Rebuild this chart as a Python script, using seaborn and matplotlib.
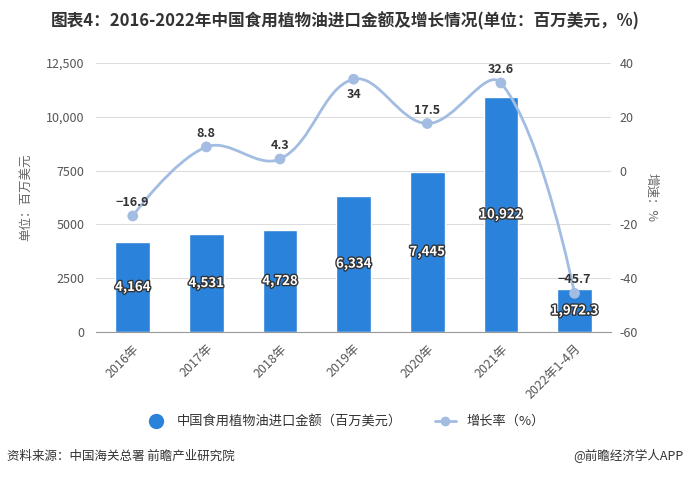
import numpy as np
import pandas as pd
import seaborn as sns
import matplotlib.pyplot as plt
from matplotlib.path import Path
from matplotlib.patches import PathPatch
from matplotlib.lines import Line2D
import matplotlib.patheffects as pe

years = ["2016年", "2017年", "2018年", "2019年", "2020年", "2021年", "2022年1-4月"]
import_value = [4164, 4531, 4728, 6334, 7445, 10922, 1972.3]
value_labels = ["4,164", "4,531", "4,728", "6,334", "7,445", "10,922", "1,972.3"]
growth = [-16.9, 8.8, 4.3, 34, 17.5, 32.6, -45.7]
growth_labels = ["−16.9", "8.8", "4.3", "34", "17.5", "32.6", "−45.7"]
left_ticks = [0, 2500, 5000, 7500, 10000, 12500]
left_tick_labels = ["0", "2500", "5000", "7500", "10,000", "12,500"]
right_ticks = [-60, -40, -20, 0, 20, 40]

df = pd.DataFrame({"year": years, "value": import_value, "growth": growth})

sns.set_style("white")
plt.rcParams['font.family'] = ['Noto Sans CJK SC', 'DejaVu Sans']
plt.rcParams['axes.unicode_minus'] = False

bar_color = "#2a82da"
line_color = "#a3bce2"
tick_color = "#555555"

fig = plt.figure(figsize=(6.9, 4.78), dpi=100)
ax = fig.add_axes([0.139, 0.306, 0.747, 0.562])

sns.barplot(data=df, x="year", y="value", color=bar_color, width=0.47,
            saturation=1, ax=ax)
ax.set_ylim(0, 12500)
ax.set_yticks(left_ticks)
ax.set_yticklabels(left_tick_labels)
ax.yaxis.grid(True, color="#dddddd", linewidth=0.8)
ax.set_axisbelow(True)
for s in ["top", "left", "right"]:
    ax.spines[s].set_visible(False)
ax.spines["bottom"].set_color("#999999")
ax.tick_params(axis="y", length=0, labelsize=9, colors=tick_color, pad=8)
ax.tick_params(axis="x", length=4, color="#999999", labelsize=9,
               colors=tick_color)
plt.setp(ax.get_xticklabels(), rotation=45, ha="right", rotation_mode="anchor")
ax.set_xlabel("")
ax.set_ylabel("单位：百万美元", fontsize=9, color="#666666", labelpad=10)

for i, (v, lab) in enumerate(zip(import_value, value_labels)):
    ax.text(i, v / 2, lab, ha="center", va="center", color="white",
            fontsize=9.5, fontweight="bold",
            path_effects=[pe.withStroke(linewidth=2, foreground="#333333")])

ax2 = ax.twinx()
ax2.set_ylim(-60, 40)
ax2.set_yticks(right_ticks)
for s in ["top", "left", "right", "bottom"]:
    ax2.spines[s].set_visible(False)
ax2.tick_params(axis="y", length=0, labelsize=9, colors=tick_color, pad=6)
ax2.set_ylabel("增速：%", fontsize=9, color="#666666", rotation=-90,
               labelpad=14)

# smooth curve through the growth points (bezier control points in pixel space)
xs = np.arange(len(growth), dtype=float)
ys = np.array(growth, dtype=float)
sx, sy = 73.7, 2.69
px, py = xs * sx, ys * sy
smooth = 0.38
verts = [(xs[0], ys[0])]
codes = [Path.MOVETO]
n = len(xs)
cps = []
for i in range(n):
    if i == 0 or i == n - 1:
        cps.append(((px[i], py[i]), (px[i], py[i])))
        continue
    vx, vy = px[i + 1] - px[i - 1], py[i + 1] - py[i - 1]
    d0 = np.hypot(px[i] - px[i - 1], py[i] - py[i - 1])
    d1 = np.hypot(px[i + 1] - px[i], py[i + 1] - py[i])
    r0 = d0 / (d0 + d1)
    r1 = d1 / (d0 + d1)
    cps.append(((px[i] - vx * smooth * r0, py[i] - vy * smooth * r0),
                (px[i] + vx * smooth * r1, py[i] + vy * smooth * r1)))
for i in range(n - 1):
    a = cps[i][1]
    b = cps[i + 1][0]
    verts += [(a[0] / sx, a[1] / sy), (b[0] / sx, b[1] / sy), (xs[i + 1], ys[i + 1])]
    codes += [Path.CURVE4] * 3
ax2.add_patch(PathPatch(Path(verts, codes), facecolor="none",
                        edgecolor=line_color, linewidth=2, zorder=3))
sns.scatterplot(x=xs, y=ys, color=line_color, s=60, edgecolor="none",
                zorder=4, ax=ax2)

for i, (g, lab) in enumerate(zip(growth, growth_labels)):
    if i == 3:
        ax2.text(i, g - 3.2, lab, ha="center", va="top", fontsize=9,
                 fontweight="bold", color="#333333")
    else:
        ax2.text(i, g + 2.6, lab, ha="center", va="bottom", fontsize=9,
                 fontweight="bold", color="#333333")

ax.set_xlim(-0.5, len(years) - 0.5)

fig.text(0.5, 0.955, "图表4：2016-2022年中国食用植物油进口金额及增长情况(单位：百万美元，%)",
         ha="center", va="center", fontsize=12, fontweight="bold",
         color="#333333")

handles = [
    Line2D([], [], linestyle="none", marker="o", markersize=10,
           color=bar_color),
    Line2D([], [], color=line_color, linewidth=2, marker="o", markersize=6),
]
fig.legend(handles, ["中国食用植物油进口金额（百万美元）", "增长率（%）"],
           loc="center", bbox_to_anchor=(0.5, 0.118), ncol=2, frameon=False,
           fontsize=9.5, handlelength=1.6, columnspacing=2.5,
           labelcolor="#333333")

fig.text(0.01, 0.046, "资料来源：中国海关总署 前瞻产业研究院", ha="left",
         va="center", fontsize=9, color="#333333")
fig.text(0.99, 0.046, "@前瞻经济学人APP", ha="right", va="center",
         fontsize=9, color="#333333")

fig.savefig("out.png", dpi=100)
